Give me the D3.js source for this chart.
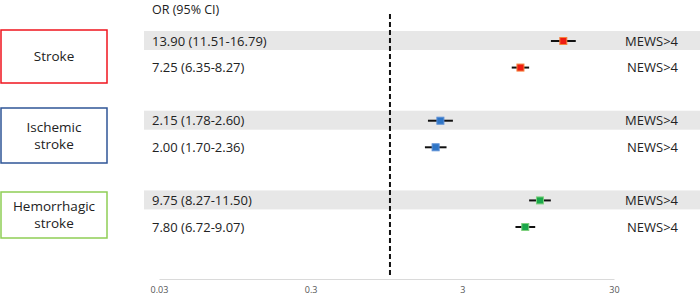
<!DOCTYPE html>
<html>
<head>
<meta charset="utf-8">
<script src="https://cdn.jsdelivr.net/npm/d3@7"></script>
<style>
    body { margin: 0; background: #fff; }
    text { font-family: "Open Sans", "Noto Sans", sans-serif; fill: #222; }
</style>
</head>
<body>
<div id="chart"></div>
<script>
// outcomes (left boxes)
const groups = ["Stroke", "Ischemic stroke", "Hemorrhagic stroke"];
const groupColors = ["#f0141e", "#2f5597", "#8fce55"];
const markerColors = ["#ee1c12", "#2e75c6", "#1aa84a"];

// rows: score, OR, lower, upper
const scores = ["MEWS>4", "NEWS>4", "MEWS>4", "NEWS>4", "MEWS>4", "NEWS>4"];
const rowGroup = [0, 0, 1, 1, 2, 2];
const or = [13.90, 7.25, 2.15, 2.00, 9.75, 7.80];
const lower = [11.51, 6.35, 1.78, 1.70, 8.27, 6.72];
const upper = [16.79, 8.27, 2.60, 2.36, 11.50, 9.07];
const orLabels = ["13.90 (11.51-16.79)", "7.25 (6.35-8.27)", "2.15 (1.78-2.60)",
    "2.00 (1.70-2.36)", "9.75 (8.27-11.50)", "7.80 (6.72-9.07)"];

const tickValues = [0.03, 0.3, 3, 30];
const tickLabels = ["0.03", "0.3", "3", "30"];

const width = 700, height = 296;

const svg = d3.select('#chart').append('svg')
    .attr('width', width)
    .attr('height', height);

let x = d3.scaleLog()
    .domain([0.03, 30])
    .range([159, 614]);

// row positions, leave a blank slot between groups
let slot = (i) => rowGroup[i] * 3 + (i % 2);
let y = d3.scaleLinear()
    .domain([0, 7])
    .range([41, 227]);

// header
svg.append('text')
    .attr('x', 152)
    .attr('y', 10)
    .attr('dy', '0.35em')
    .style('font-size', '12.5px')
    .text('OR (95% CI)');

// gray bands for MEWS rows
svg.selectAll('.band')
    .data(or.map((d, i) => i).filter(i => i % 2 === 0))
    .enter().append('rect')
    .attr('class', 'band')
    .attr('x', 144)
    .attr('y', i => y(slot(i)) - 10)
    .attr('width', width - 144)
    .attr('height', 19)
    .style('fill', '#e7e7e7');

// axis
let axis = d3.axisBottom(x)
    .tickValues(tickValues)
    .tickFormat((d, i) => tickLabels[i])
    .tickSize(0)
    .tickPadding(8);

let gAxis = svg.append('g')
    .attr('transform', 'translate(0,279)')
    .call(axis);
gAxis.select('.domain').attr('stroke', '#dadada').attr('stroke-width', 1);
gAxis.selectAll('text')
    .style('font-size', '9px')
    .style('fill', '#555')
    .style('font-family', '"Open Sans", sans-serif');

// reference line at OR = 1
svg.append('line')
    .attr('x1', x(1)).attr('x2', x(1))
    .attr('y1', 14).attr('y2', 277)
    .attr('stroke', '#111')
    .attr('stroke-width', 2)
    .attr('stroke-dasharray', '5,3');

// OR text
svg.selectAll('.ortext')
    .data(orLabels)
    .enter().append('text')
    .attr('x', 152)
    .attr('y', (d, i) => y(slot(i)))
    .attr('dy', '0.35em')
    .style('font-size', '13px')
    .text(d => d);

// score labels
svg.selectAll('.score')
    .data(scores)
    .enter().append('text')
    .attr('x', 678)
    .attr('y', (d, i) => y(slot(i)))
    .attr('dy', '0.35em')
    .attr('text-anchor', 'end')
    .style('font-size', '13px')
    .text(d => d);

// CI lines
svg.selectAll('.ci')
    .data(or)
    .enter().append('line')
    .attr('x1', (d, i) => x(lower[i]))
    .attr('x2', (d, i) => x(upper[i]))
    .attr('y1', (d, i) => y(slot(i)))
    .attr('y2', (d, i) => y(slot(i)))
    .attr('stroke', '#111')
    .attr('stroke-width', 2);

// point estimates
const sq = 7;
svg.selectAll('.pt')
    .data(or)
    .enter().append('rect')
    .attr('x', d => x(d) - sq / 2)
    .attr('y', (d, i) => y(slot(i)) - sq / 2)
    .attr('width', sq)
    .attr('height', sq)
    .style('fill', (d, i) => markerColors[rowGroup[i]])
    .style('stroke', (d, i) => rowGroup[i] === 0 ? '#f5823c' : (rowGroup[i] === 2 ? '#7fd07f' : '#5b8fd6'))
    .style('stroke-width', 1);

// group boxes
const boxTop = [30, 108, 192];
const boxBottom = [83, 163, 238];
groups.forEach((g, k) => {
    svg.append('rect')
        .attr('x', 1)
        .attr('y', boxTop[k])
        .attr('width', 106)
        .attr('height', boxBottom[k] - boxTop[k])
        .style('fill', '#fff')
        .style('stroke', groupColors[k])
        .style('stroke-width', 1.5);

    let words = g.split(' ');
    let cy = (boxTop[k] + boxBottom[k]) / 2;
    words.forEach((w, j) => {
        svg.append('text')
            .attr('text-anchor', 'middle')
            .attr('x', 54)
            .attr('y', cy + (j - (words.length - 1) / 2) * 17)
            .attr('dy', '0.35em')
            .style('font-size', '13.5px')
            .text(w);
    });
});
</script>
</body>
</html>
